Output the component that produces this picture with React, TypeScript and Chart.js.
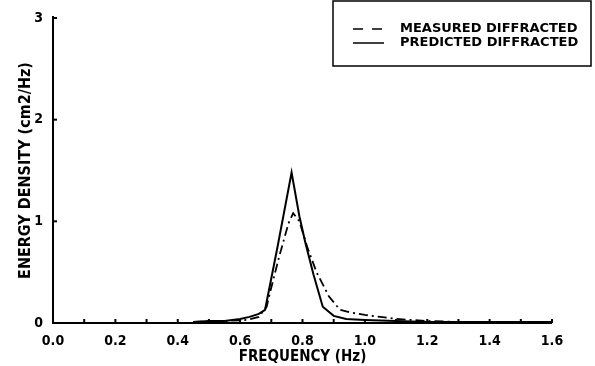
import React, { useEffect, useRef } from "react";
import { Chart, registerables } from "chart.js";

Chart.register(...registerables);

const xTickLabels = ["0.0", "0.2", "0.4", "0.6", "0.8", "1.0", "1.2", "1.4", "1.6"];
const yTickLabels = ["0", "1", "2", "3"];

const measuredLabel = "MEASURED DIFFRACTED";
const measuredFreq = [0.45, 0.55, 0.62, 0.66, 0.685, 0.70, 0.725, 0.755, 0.77, 0.79, 0.815, 0.845, 0.885, 0.92, 0.96, 1.0, 1.05, 1.1, 1.2, 1.3, 1.4, 1.5, 1.6];
const measuredValues = [0.01, 0.02, 0.03, 0.06, 0.16, 0.35, 0.65, 0.98, 1.08, 1.0, 0.75, 0.5, 0.26, 0.13, 0.1, 0.08, 0.06, 0.04, 0.02, 0.01, 0.01, 0.01, 0.01];

const predictedLabel = "PREDICTED DIFFRACTED";
const predictedFreq = [0.45, 0.5, 0.55, 0.6, 0.63, 0.66, 0.68, 0.72, 0.765, 0.79, 0.81, 0.835, 0.865, 0.9, 0.94, 1.0, 1.1, 1.2, 1.3, 1.4, 1.5, 1.6];
const predictedValues = [0.01, 0.02, 0.02, 0.04, 0.06, 0.09, 0.13, 0.75, 1.48, 1.05, 0.78, 0.48, 0.16, 0.07, 0.04, 0.03, 0.02, 0.01, 0.01, 0.01, 0.01, 0.01];

const FONT = "'DejaVu Sans Condensed', 'Liberation Sans Narrow', Arial, sans-serif";
const LEGEND_FONT = "'DejaVu Sans', Arial, sans-serif";

const insideTicks = {
  id: "insideTicks",
  afterDraw(chart: any) {
    const ctx = chart.ctx;
    const xs = chart.scales.x;
    const ys = chart.scales.y;
    ctx.save();
    ctx.strokeStyle = "#000";
    ctx.lineWidth = 2;
    ctx.beginPath();
    ctx.moveTo(xs.left, ys.getPixelForValue(3) - 2);
    ctx.lineTo(xs.left, ys.bottom);
    ctx.lineTo(xs.right, ys.bottom);
    ctx.stroke();
    ctx.beginPath();
    ctx.moveTo(xs.left, ys.getPixelForValue(3));
    ctx.lineTo(xs.left + 4, ys.getPixelForValue(3));
    ctx.stroke();
    for (let i = 1; i <= 16; i++) {
      const px = xs.getPixelForValue(i / 10);
      ctx.beginPath();
      ctx.moveTo(px, ys.bottom);
      ctx.lineTo(px, ys.bottom - 4);
      ctx.stroke();
    }
    for (let v = 1; v <= 2; v++) {
      const py = ys.getPixelForValue(v);
      ctx.beginPath();
      ctx.moveTo(xs.left, py);
      ctx.lineTo(xs.left + 4, py);
      ctx.stroke();
    }
    const bx = 333, by = 1, bw = 258, bh = 65;
    ctx.lineWidth = 1.5;
    ctx.strokeRect(bx, by, bw, bh);
    ctx.font = "bold 13px " + LEGEND_FONT;
    ctx.fillStyle = "#000";
    ctx.textBaseline = "middle";
    ctx.textAlign = "left";
    const rows = [
      { label: chart.data.datasets[0].label, y: 29, dash: [10, 9] },
      { label: chart.data.datasets[1].label, y: 43, dash: [] as number[] },
    ];
    rows.forEach((r) => {
      ctx.setLineDash(r.dash);
      ctx.lineWidth = 1.5;
      ctx.beginPath();
      ctx.moveTo(353, r.y);
      ctx.lineTo(384, r.y);
      ctx.stroke();
      ctx.setLineDash([]);
      ctx.fillText(r.label, 400, r.y);
    });
    ctx.restore();
  },
};

export default function App() {
  const ref = useRef<HTMLCanvasElement | null>(null);
  useEffect(() => {
    document.body.style.margin = "0";
    const canvas = ref.current!;
    const chart = new Chart(canvas, {
      type: "line",
      data: {
        datasets: [
          {
            label: measuredLabel,
            data: measuredFreq.map((x, i) => ({ x, y: measuredValues[i] })),
            borderColor: "#000",
            borderWidth: 1.8,
            borderDash: [9, 4, 2, 4],
            pointRadius: 0,
            tension: 0,
            fill: false,
          },
          {
            label: predictedLabel,
            data: predictedFreq.map((x, i) => ({ x, y: predictedValues[i] })),
            borderColor: "#000",
            borderWidth: 2,
            pointRadius: 0,
            tension: 0,
            fill: false,
          },
        ],
      },
      options: {
        animation: false,
        responsive: false,
        maintainAspectRatio: false,
        layout: { padding: { top: 18, right: 43, left: 0, bottom: 0 } },
        plugins: { legend: { display: false }, tooltip: { enabled: false } },
        scales: {
          x: {
            type: "linear",
            min: 0,
            max: 1.6,
            border: { display: false },
            grid: { display: false },
            ticks: {
              stepSize: 0.2,
              color: "#000",
              font: { family: FONT, size: 14, weight: "bold" },
              padding: 2,
              maxRotation: 0,
              callback: (v: any) => xTickLabels[Math.round(Number(v) * 5)] ?? "",
            },
            title: {
              display: true,
              text: "FREQUENCY (Hz)",
              color: "#000",
              font: { family: FONT, size: 15, weight: "bold" },
              padding: { top: 0, bottom: 0 },
            },
            afterFit: (s: any) => { s.height = 43; },
          },
          y: {
            type: "linear",
            min: 0,
            max: 3,
            border: { display: false },
            grid: { display: false },
            ticks: {
              stepSize: 1,
              color: "#000",
              font: { family: FONT, size: 14, weight: "bold" },
              padding: 2,
              callback: (v: any) => yTickLabels[Math.round(Number(v))] ?? "",
            },
            title: {
              display: true,
              text: "ENERGY DENSITY (cm2/Hz)",
              color: "#000",
              font: { family: FONT, size: 16, weight: "bold" },
              padding: { top: 16, bottom: 0 },
            },
            afterFit: (s: any) => { s.width = 53; },
          },
        },
      },
      plugins: [insideTicks],
    });
    return () => chart.destroy();
  }, []);
  return <canvas ref={ref} width={595} height={366} style={{ display: "block" }} />;
}
